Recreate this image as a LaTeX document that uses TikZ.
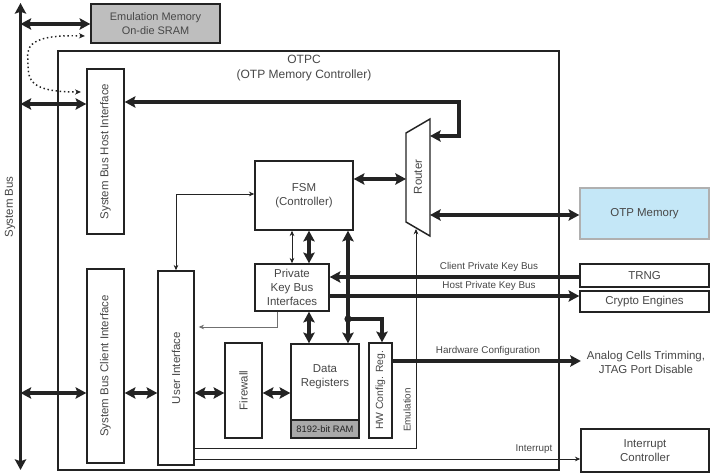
\documentclass[tikz,border=0pt]{standalone}
\usepackage{fontspec}
\setmainfont{Liberation Sans}
\usetikzlibrary{arrows.meta,calc}
\definecolor{txt}{HTML}{474747}
\definecolor{bord}{HTML}{232323}
\definecolor{otpblue}{HTML}{C4E7F7}
\definecolor{otpbord}{HTML}{B0B0B0}
\definecolor{ramgray}{HTML}{A9A9A9}
\definecolor{emugray}{HTML}{BEBEBE}
\definecolor{thingray}{HTML}{707070}
\begin{document}
\begin{tikzpicture}[x=0.75pt,y=-0.75pt,
  every node/.style={text=txt},
  fnt/.style={font=\fontsize{8.6}{10.5}\selectfont},
  sfnt/.style={font=\fontsize{7.4}{9}\selectfont},
  box/.style={draw=bord, line width=1.1pt, fill=white, inner sep=0pt, align=center, fnt},
  rot/.style={rotate=90, fnt, inner sep=0pt},
  bus/.style={line width=2.4pt, draw=bord, {Stealth[length=8pt,width=8.5pt,inset=1.5pt]}-{Stealth[length=8pt,width=8.5pt,inset=1.5pt]}},
  busr/.style={line width=2.4pt, draw=bord, -{Stealth[length=8pt,width=8.5pt,inset=1.5pt]}},
  thin/.style={line width=0.7pt, draw=bord, {Stealth[length=4pt,width=3.5pt]}-{Stealth[length=4pt,width=3.5pt]}},
  thinr/.style={line width=0.7pt, draw=bord, -{Stealth[length=4pt,width=3.5pt]}},
  lbl/.style={sfnt, inner sep=1pt}
]
\useasboundingbox (0,0) rectangle (711,473);

% OTPC container
\node[box, minimum width=375.75pt, minimum height=314.25pt] (otpc) at (308.5,260.5) {};
\node[fnt, align=center, font=\fontsize{9}{11}\selectfont] (otpcT) at (304,68) {OTPC\\(OTP Memory Controller)};

% system bus
\coordinate (sbt) at (20.5,3);
\coordinate (sbb) at (20.5,470);
\draw[bus, line width=2.6pt] (sbt) -- (sbb);
\node[rot] (sbl) at (10,207) {System Bus};

% emulation memory
\node[box, fill=emugray, minimum width=96.75pt, minimum height=29.25pt, font=\fontsize{8.2}{10}\selectfont] (emu) at (155.5,23.5) {Emulation Memory\\On-die SRAM};

% boxes
\node[box, minimum width=27.75pt, minimum height=123.75pt] (host) at (105.5,151.5) {};
\node[rot] (hostT) at (host) {System Bus Host Interface};
\node[box, minimum width=27.75pt, minimum height=145.5pt] (client) at (105.5,366) {};
\node[rot] (clientT) at (client) {System Bus Client Interface};
\node[box, minimum width=27pt, minimum height=145.5pt] (ui) at (176,368) {};
\node[rot] (uiT) at (ui) {User Interface};
\node[box, minimum width=27.75pt, minimum height=71.25pt] (fw) at (243.5,390.5) {};
\node[rot] (fwT) at (fw) {Firewall};
\node[box, minimum width=51pt, minimum height=70.5pt] (dr) at (325,391) {};
\node[box, fill=ramgray, minimum width=51pt, minimum height=13.5pt, font=\fontsize{7}{8}\selectfont, text=bord] (ram) at (325,429) {8192-bit RAM};
\node[fnt, align=center] (drT) at (325,377) {Data\\Registers};
\node[box, minimum width=17.25pt, minimum height=71.25pt] (hw) at (380.5,390.5) {};
\node[rot, font=\fontsize{7.8}{9}\selectfont] (hwT) at (hw) {HW Config. Reg.};
\node[box, minimum width=73.5pt, minimum height=51.75pt] (fsm) at (304,195.5) {FSM\\(Controller)};
\node[box, minimum width=55.5pt, minimum height=35.25pt] (pkb) at (292,287.5) {Private\\Key Bus\\Interfaces};
\node[box, fill=otpblue, draw=otpbord, minimum width=96.75pt, minimum height=38.25pt] (otp) at (644.5,213.5) {OTP Memory};
\node[box, minimum width=96.75pt, minimum height=17.25pt] (trng) at (644.5,275.5) {TRNG};
\node[box, minimum width=96.75pt, minimum height=15.75pt] (crypto) at (644.5,301.5) {Crypto Engines};
\node[box, minimum width=96pt, minimum height=32.25pt] (intc) at (645,450.5) {Interrupt\\Controller};
\node[fnt, align=center] (analog) at (646,362) {Analog Cells Trimming,\\JTAG Port Disable};

% router
\coordinate (rtl) at (406,133);
\coordinate (rtr) at (430,119);
\coordinate (rbr) at (430,236);
\coordinate (rbl) at (406,222);
\draw[bord, line width=1.1pt, fill=white] (rtl) -- (rtr) -- (rbr) -- (rbl) -- cycle;
\node[rot] (router) at (418,177) {Router};

% level coordinates
\coordinate (yEmu) at (0,24);
\coordinate (yHost) at (0,104);
\coordinate (yRet) at (0,102);
\coordinate (yRin) at (0,136);
\coordinate (xRet) at (459,0);
\coordinate (yFR) at (0,179);
\coordinate (yRO) at (0,215);
\coordinate (yCl) at (0,393);
\coordinate (yUF) at (0,194);
\coordinate (xUF) at (176,0);
\coordinate (yCPK) at (0,277);
\coordinate (yHPK) at (0,296);
\coordinate (xBus) at (348,0);
\coordinate (dot) at (348,319);
\coordinate (xHW) at (382,0);
\coordinate (xPU) at (277,0);
\coordinate (yPU) at (0,327);
\coordinate (yHWC) at (0,361);
\coordinate (xEm) at (416,0);
\coordinate (yEm) at (0,448);
\coordinate (yInt) at (0,459);
\coordinate (rbot) at (416,229);

% system bus connections
\draw[bus] (sbt |- yEmu) -- (emu.west |- yEmu);
\draw[bus] (sbt |- yHost) -- (host.west |- yHost);
\draw[bus] (sbt |- yCl) -- (client.west |- yCl);
\draw[bus] (client.east |- yCl) -- (ui.west |- yCl);
\draw[bus] (ui.east |- yCl) -- (fw.west |- yCl);
\draw[bus] (fw.east |- yCl) -- (dr.west |- yCl);

% dotted emulation path
\draw[line width=1.1pt, dotted, bord, {Stealth[length=4.5pt,width=4pt]}-{Stealth[length=4.5pt,width=4pt]}]
  ([xshift=-4pt]emu.west |- 0,36) .. controls (20,34) and (28,52) .. (28,64)
  .. controls (28,80) and (30,92) .. ([xshift=-4pt]host.west |- 0,92);

% host <-> router return path
\draw[bus] (host.east |- yRet) -- (xRet |- yRet) -- (xRet |- yRin) -- (rtr |- yRin);

% FSM <-> router, router <-> OTP
\draw[bus] (fsm.east |- yFR) -- (rtl |- yFR);
\draw[bus] (rtr |- yRO) -- (otp.west |- yRO);

% UI <-> FSM thin
\draw[thin] (xUF |- ui.north) -- (xUF |- yUF) -- (fsm.west |- yUF);

% FSM <-> PKB
\draw[thin] (fsm.south -| 292,0) -- (pkb.north -| 292,0);
\draw[bus] (fsm.south -| 309,0) -- (pkb.north -| 309,0);
\draw[bus] (pkb.south -| 309,0) -- (dr.north -| 309,0);

% main vertical bus
\draw[bus] (xBus |- fsm.south) -- (xBus |- dr.north);
\draw[busr] (dot) -- (xHW |- dot) -- (xHW |- hw.north);
\fill[bord] (dot) circle (3.6);

% private key buses
\draw[busr] (trng.west |- yCPK) -- (pkb.east |- yCPK);
\draw[busr] (pkb.east |- yHPK) -- (crypto.west |- yHPK);
\node[lbl, anchor=south] (cpkL) at (489,273.5) {Client Private Key Bus};
\node[lbl, anchor=south] (hpkL) at (489,292.5) {Host Private Key Bus};

% PKB -> UI
\draw[line width=0.7pt, thingray, -{Stealth[length=4pt,width=3.5pt]}] (xPU |- pkb.south) -- (xPU |- yPU) -- ([xshift=3pt]ui.east |- yPU);

% HW config
\draw[busr] (hw.east |- yHWC) -- ([xshift=-1pt]analog.west |- yHWC);
\node[lbl, anchor=south] (hwL) at (488,357) {Hardware Configuration};

% emulation line
\draw[line width=0.7pt, bord, -{Stealth[length=4pt,width=3.5pt]}] (ui.east |- yEm) -- (xEm |- yEm) -- (rbot);
\node[rot, sfnt] (emL) at (407,410) {Emulation};

% interrupt
\draw[thinr] (ui.east |- yInt) -- (intc.west |- yInt);
\node[lbl, anchor=south east] (intL) at (554,455) {Interrupt};
\end{tikzpicture}
\end{document}
